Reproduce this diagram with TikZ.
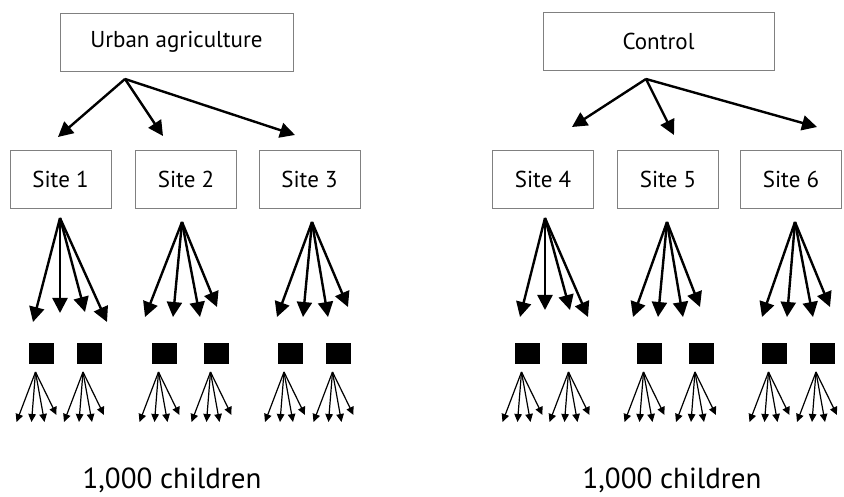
\documentclass[tikz,border=0pt]{standalone}
\usepackage{fontspec}
\setmainfont{PT Sans}
\usetikzlibrary{arrows.meta}

\tikzset{
  groupbox/.style={draw=black!50, line width=0.7pt, minimum height=58pt, inner sep=0pt,
                   font=\fontsize{23}{26}\selectfont},
  sitebox/.style={groupbox, minimum width=101pt},
  classbox/.style={fill=black, draw=none, minimum width=25pt, minimum height=21pt, inner sep=0pt},
  bigarrow/.style={line width=2.4pt, -{Triangle[length=15pt,width=15pt]}},
  smallarrow/.style={line width=1.2pt, -{Triangle[length=8pt,width=7.5pt]}},
  total/.style={font=\fontsize{29}{32}\selectfont, anchor=base}
}

\begin{document}
\begin{tikzpicture}[x=1pt, y=-1pt]
\useasboundingbox (0,0) rectangle (844,497);

% treatment groups
\node[groupbox, minimum width=233pt] (ua)   at (176.5,42) {Urban agriculture};
\node[groupbox, minimum width=231pt] (ctrl) at (658.5,41) {Control};

% sites
\node[sitebox] (s1) at (60.5,179.5) {Site 1};
\node[sitebox] (s2) at (186,179.5)  {Site 2};
\node[sitebox] (s3) at (309.5,179.5){Site 3};
\node[sitebox] (s4) at (543,179.5)  {Site 4};
\node[sitebox] (s5) at (668,179.5)  {Site 5};
\node[sitebox] (s6) at (791,179.5)  {Site 6};

% group -> site arrows
\coordinate (uaroot) at (125,79);
\coordinate (ua1) at (58,137);
\coordinate (ua2) at (163,136);
\coordinate (ua3) at (295,135);
\coordinate (ctrlroot) at (646,79);
\coordinate (ctrl1) at (572,127);
\coordinate (ctrl2) at (674,135);
\coordinate (ctrl3) at (817,127);
\foreach \i in {1,2,3}{
  \draw[bigarrow] (uaroot) -- (ua\i);
  \draw[bigarrow] (ctrlroot) -- (ctrl\i);
}

% site -> class fans
\coordinate (f1) at (60,218);
\coordinate (f1a) at (33,322);  \coordinate (f1b) at (60,313);
\coordinate (f1c) at (85,312);  \coordinate (f1d) at (107,322);
\coordinate (f2) at (182,222);
\coordinate (f2a) at (145,317); \coordinate (f2b) at (173,317);
\coordinate (f2c) at (200,317); \coordinate (f2d) at (217,307);
\coordinate (f3) at (312,222);
\coordinate (f3a) at (277,317); \coordinate (f3b) at (303,317);
\coordinate (f3c) at (328,317); \coordinate (f3d) at (348,307);
\coordinate (f4) at (545,218);
\coordinate (f4a) at (520,317); \coordinate (f4b) at (545,310);
\coordinate (f4c) at (570,310); \coordinate (f4d) at (588,317);
\coordinate (f5) at (667,222);
\coordinate (f5a) at (633,317); \coordinate (f5b) at (658,317);
\coordinate (f5c) at (683,317); \coordinate (f5d) at (700,307);
\coordinate (f6) at (795,222);
\coordinate (f6a) at (762,317); \coordinate (f6b) at (787,317);
\coordinate (f6c) at (813,317); \coordinate (f6d) at (830,307);
\foreach \s in {1,...,6}{
  \foreach \t in {a,b,c,d}{
    \draw[bigarrow] (f\s) -- (f\s\t);
  }
}

% classes and the children in each
\foreach \n/\cx in {1/41.5, 2/89, 3/164.5, 4/216.5, 5/290, 6/338.5,
                    7/527.5, 8/574.5, 9/649.5, 10/701, 11/774.5, 12/822}{
  \node[classbox] (c\n) at (\cx,353.5) {};
  \coordinate (k\n) at (\cx-6,372);
  \coordinate (k\n a) at (\cx-25,422);
  \coordinate (k\n b) at (\cx-10,422);
  \coordinate (k\n c) at (\cx+3,422);
  \coordinate (k\n d) at (\cx+15,415);
  \foreach \t in {a,b,c,d}{
    \draw[smallarrow] (k\n) -- (k\n\t);
  }
}

% totals
\node[total] (tot1) at (172,488) {1,000 children};
\node[total] (tot2) at (672,488) {1,000 children};
\end{tikzpicture}
\end{document}
